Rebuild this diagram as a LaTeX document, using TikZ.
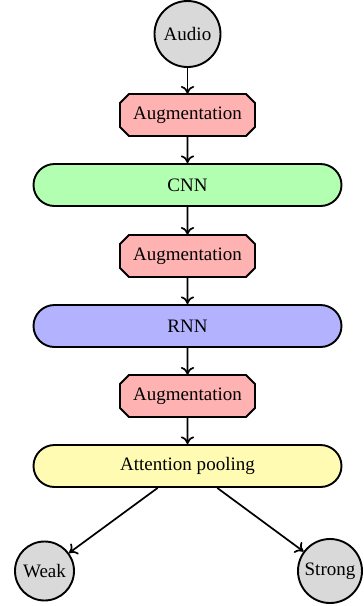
\documentclass[tikz,border=0pt]{standalone}
\usepackage{fontspec}
\setmainfont{Liberation Serif}
\usetikzlibrary{shapes.misc,arrows.meta}
\def\px{0.526pt}
\newcommand\augnode[2]{%
  \draw[line width=1pt,fill=red!30] (120,#2-12) -- (129,#2-21) -- (246,#2-21) -- (255,#2-12)
    -- (255,#2+12) -- (246,#2+21) -- (129,#2+21) -- (120,#2+12) -- cycle;
  \node[augbox] (#1) at (187.5,#2) {Augmentation};}
\begin{document}
\begin{tikzpicture}[x=\px,y=-\px,
  every node/.style={font=\rmfamily\fontsize{10}{12}\selectfont},
  lbl/.style={circle,draw,line width=1pt,fill=gray!30,inner sep=0pt},
  augbox/.style={rectangle,inner sep=0pt,minimum width={135*\px},minimum height={42*\px}},
  bigbox/.style={rounded rectangle,draw,line width=1pt,inner sep=0pt,
    minimum width={308*\px},minimum height={42*\px}},
  conn/.style={-{To[length=4pt,width=7pt]},line width=0.9pt}]
\useasboundingbox (0,0) rectangle (363,606);
\node[lbl,minimum size={66*\px}] (audio) at (187.5,34) {Audio};
\augnode{aug1}{115}
\node[bigbox,fill=green!30] (cnn) at (187.5,185) {CNN};
\augnode{aug2}{256}
\node[bigbox,fill=blue!30] (rnn) at (187.5,326) {RNN};
\augnode{aug3}{396}
\node[bigbox,fill=yellow!30] (att) at (187.5,466) {Attention pooling};
\node[lbl,minimum size={59*\px}] (weak) at (44.5,571) {Weak};
\node[lbl,minimum size={64*\px}] (strong) at (330,571) {Strong};
\draw[conn] (audio) -- (aug1);
\draw[conn] (aug1) -- (cnn);
\draw[conn] (cnn) -- (aug2);
\draw[conn] (aug2) -- (rnn);
\draw[conn] (rnn) -- (aug3);
\draw[conn] (aug3) -- (att);
\draw[conn] (att) -- (weak);
\draw[conn] (att) -- (strong);
\end{tikzpicture}
\end{document}
